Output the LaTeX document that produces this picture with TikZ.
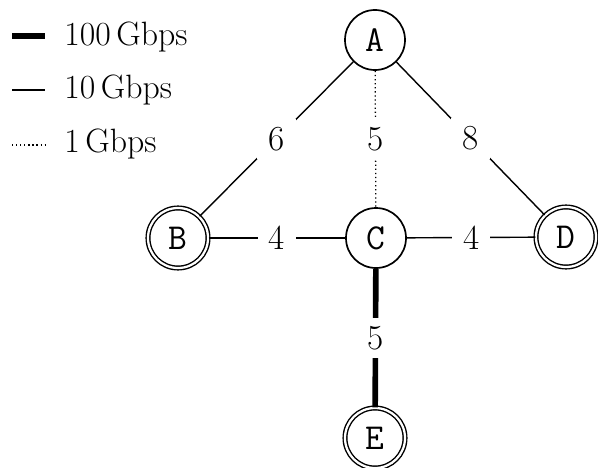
\documentclass[tikz,border=0pt]{standalone}
\usepackage{fontspec}
\begin{document}
\begin{tikzpicture}[x=0.025cm,y=-0.025cm,
  st/.style={circle,draw,line width=1.2pt,minimum size=1.5cm,inner sep=0pt,
    font=\ttfamily\fontsize{26}{30}\selectfont},
  acc/.style={st,double,double distance=1.6pt,line width=1pt},
  lab/.style={fill=white,inner xsep=8pt,inner ysep=6pt,font=\fontsize{25}{29}\selectfont},
  leg/.style={anchor=base west,inner sep=0pt,font=\fontsize{24}{28}\selectfont},
  ten/.style={line width=1pt},
  hund/.style={line width=4pt},
  one/.style={line width=0.9pt,dotted}]
\useasboundingbox (0,0) rectangle (598,467);
% legend
\coordinate (l1a) at (12,36); \coordinate (l1b) at (45,36);
\coordinate (l2a) at (12,90); \coordinate (l2b) at (45,90);
\coordinate (l3a) at (12,145); \coordinate (l3b) at (45,145);
\draw[hund] (l1a) -- (l1b);
\draw[ten] (l2a) -- (l2b);
\draw[one] (l3a) -- (l3b);
\node[leg] (t1) at (64,45) {100\,Gbps};
\node[leg] (t2) at (64,98) {10\,Gbps};
\node[leg] (t3) at (64,152) {1\,Gbps};
% nodes
\node[st]  (A) at (375,40) {A};
\node[acc] (B) at (178,238) {B};
\node[st]  (C) at (376,238) {C};
\node[acc] (D) at (566,237) {D};
\node[acc] (E) at (375,438) {E};
% edges
\draw[ten] (A) -- node[lab]{6} (B);
\draw[one] (A) -- node[lab]{5} (C);
\draw[ten] (A) -- node[lab]{8} (D);
\draw[ten] (B) -- node[lab]{4} (C);
\draw[ten] (C) -- node[lab]{4} (D);
\draw[hund] (C) -- node[lab]{5} (E);
\end{tikzpicture}
\end{document}
